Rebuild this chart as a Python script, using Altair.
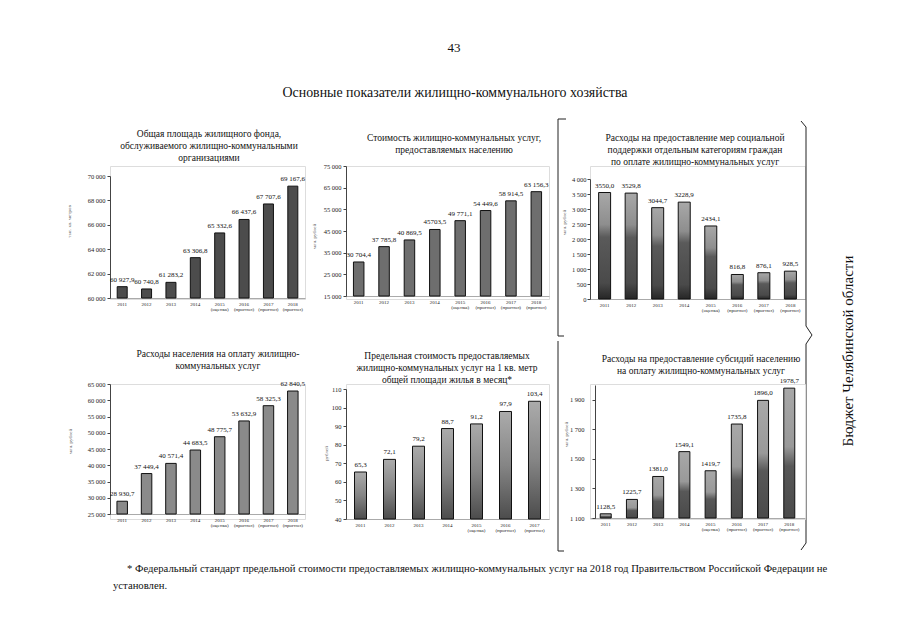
import altair as alt
import pandas as pd

SERIF = "'Liberation Serif', 'Times New Roman', Times, serif"

years8 = ["2011", "2012", "2013", "2014", "2015 (оценка)", "2016 (прогноз)",
          "2017 (прогноз)", "2018 (прогноз)"]
years7 = years8[:7]

area_vals = [60927.9, 60740.8, 61283.2, 63306.8, 65332.6, 66437.6, 67707.6, 69167.6]
area_lbls = ["60 927,9", "60 740,8", "61 283,2", "63 306,8", "65 332,6", "66 437,6",
             "67 707,6", "69 167,6"]
cost_vals = [30704.4, 37785.8, 40869.5, 45703.5, 49771.1, 54449.6, 58914.5, 63156.3]
cost_lbls = ["30 704,4", "37 785,8", "40 869,5", "45703,5", "49 771,1", "54 449,6",
             "58 914,5", "63 156,3"]
support_vals = [3550.0, 3529.8, 3044.7, 3228.9, 2434.1, 816.8, 876.1, 928.5]
support_lbls = ["3550,0", "3529,8", "3044,7", "3228,9", "2434,1", "816,8", "876,1", "928,5"]
spend_vals = [28930.7, 37449.4, 40571.4, 44683.5, 48775.7, 53632.9, 58325.3, 62840.5]
spend_lbls = ["28 930,7", "37 449,4", "40 571,4", "44 683,5", "48 775,7", "53 632,9",
              "58 325,3", "62 840,5"]
limit_vals = [65.3, 72.1, 79.2, 88.7, 91.2, 97.9, 103.4]
limit_lbls = ["65,3", "72,1", "79,2", "88,7", "91,2", "97,9", "103,4"]
subsidy_vals = [1128.5, 1225.7, 1381.0, 1549.1, 1419.7, 1735.8, 1896.0, 1978.7]
subsidy_lbls = ["1128,5", "1225,7", "1381,0", "1549,1", "1419,7", "1735,8", "1896,0", "1978,7"]

t_area = ["Общая площадь жилищного фонда,", "обслуживаемого жилищно-коммунальными", "организациями"]
t_cost = ["Стоимость жилищно-коммунальных услуг,", "предоставляемых населению"]
t_support = ["Расходы на предоставление мер социальной", "поддержки отдельным категориям граждан",
             "по оплате жилищно-коммунальных услуг"]
t_spend = ["Расходы населения на оплату жилищно-", "коммунальных услуг"]
t_limit = ["Предельная стоимость предоставляемых", "жилищно-коммунальных услуг на 1 кв. метр",
           "общей площади жилья в месяц*"]
t_subsidy = ["Расходы на предоставление субсидий населению", "на оплату жилищно-коммунальных услуг"]

page_no = "43"
main_title = "Основные показатели жилищно-коммунального хозяйства"
foot1 = ("* Федеральный стандарт предельной стоимости предоставляемых жилищно-коммунальных услуг "
         "на 2018 год Правительством Российской Федерации не")
foot2 = "установлен."
side_text = "Бюджет  Челябинской  области"


def vgrad(stops):
    return alt.Gradient(gradient="linear",
                        stops=[alt.GradientStop(offset=o, color=c) for o, c in stops],
                        x1=0, x2=0, y1=0, y2=1)


def note(text, x, y, size, **kw):
    return alt.Chart(pd.DataFrame({"t": [text]})).mark_text(
        font=SERIF, fontSize=size, color="#111", lineBreak="\n", **kw
    ).encode(x=alt.value(x), y=alt.value(y), text="t:N")


def seg(x, y, x2=None, y2=None):
    enc = {"x": alt.value(x), "y": alt.value(y)}
    if x2 is not None:
        enc["x2"] = alt.value(x2)
    if y2 is not None:
        enc["y2"] = alt.value(y2)
    return alt.Chart(pd.DataFrame({"a": [0]})).mark_rule(color="#222", strokeWidth=1).encode(**enc)


def panel(cats, vals, lbls, domain, ticks, rng, width, height, pad_outer, bar_size, fill,
          ytitle, ytx, yty, title, tx, ty, x_off=0, y_off=0, lab_pad=2, extras=()):
    df = pd.DataFrame({"cat": cats, "val": vals, "lbl": lbls})
    x = alt.X("cat:N", sort=cats, title=None,
              scale=alt.Scale(paddingInner=0, paddingOuter=pad_outer),
              axis=alt.Axis(labelAngle=0, labelExpr="split(datum.label, ' ')", labelFont=SERIF,
                            labelFontSize=5, labelLineHeight=5.5, ticks=False, domainColor="#aaa",
                            labelPadding=3, labelColor="#222", offset=x_off))
    y = alt.Y("val:Q", title=ytitle,
              scale=alt.Scale(domain=domain, range=rng, nice=False, zero=False),
              axis=alt.Axis(values=ticks, grid=False,
                            labelExpr="replace(format(datum.value, ','), ',', ' ')",
                            labelFont=SERIF, labelFontSize=6.5, labelColor="#222", tickSize=3,
                            domainColor="#444", tickColor="#444", labelPadding=lab_pad,
                            offset=y_off, titleFont=SERIF, titleFontSize=5,
                            titleFontWeight="normal", titleColor="#555", titleX=ytx,
                            titleY=yty, titleBaseline="middle", titleAlign="center"))
    base = alt.Chart(df)
    bars = base.mark_bar(size=bar_size, fill=fill, stroke="#111", strokeWidth=1).encode(
        x=x, y=y, y2=alt.datum(domain[0]))
    labels = base.mark_text(baseline="bottom", dy=-4, font=SERIF, fontSize=7,
                            color="#111").encode(x=x, y=y, text="lbl:N")
    ttl = note("\n".join(title), tx, ty, 9.5, baseline="top", align="center", lineHeight=12)
    return alt.layer(bars, labels, ttl, *extras).properties(width=width, height=height)


p1 = panel(years8, area_vals, area_lbls, [60000, 70000], list(range(60000, 70001, 2000)),
           [132, 10], 195, 133, 0, 10, "#4c4c4c", "тыс. кв. метров", -42, 55,
           t_area, 99, -37, x_off=-1)

p2 = panel(years8, cost_vals, cost_lbls, [15000, 75000], list(range(15000, 75001, 10000)),
           [130, 0], 203, 133, 0, 10.5, "#6e6e6e", "млн. рублей", -33, 70,
           t_cost, 108, -33, x_off=-3,
           extras=[note(page_no, 108, -118, 13, baseline="middle", align="center"),
                   note(main_title, 109, -73, 13.9, baseline="middle", align="center")])

p3 = panel(years8, support_vals, support_lbls, [0, 4000], list(range(0, 4001, 500)),
           [133, 13], 215, 133, 0.05, 12,
           vgrad([(0, "#a8a8a8"), (0.3, "#8e8e8e"), (0.42, "#5a5a5a"), (0.85, "#4a4a4a"),
                  (1, "#262626")]),
           "млн. рублей", -27, 56, t_support, 105, -33, lab_pad=1,
           extras=[seg(-32, -47, y2=170), seg(-32, -47, x2=-24), seg(-32, 170, x2=-26),
                   seg(211, -45, x2=216, y2=-39), seg(216, -39, y2=160),
                   seg(216, 160, x2=222, y2=169), seg(222, 169, x2=216, y2=178),
                   seg(216, 178, y2=377), seg(216, 377, x2=211, y2=384)])

p4 = panel(years8, spend_vals, spend_lbls, [25000, 65000], list(range(25000, 65001, 5000)),
           [130, 0], 195, 135, 0, 10.5, "#8a8a8a", "млн. рублей", -41, 57,
           t_spend, 108, -35, x_off=-5,
           extras=[note(foot1, 17, 185, 10.7, baseline="middle", align="left"),
                   note(foot2, 3, 202, 10.7, baseline="middle", align="left")])

p5 = panel(years7, limit_vals, limit_lbls, [40, 110], list(range(40, 111, 10)),
           [135, 5], 203, 135, 0, 12,
           vgrad([(0, "#ababab"), (0.5, "#858585"), (1, "#4c4c4c")]),
           "рублей", -21, 69, t_limit, 101, -33)

p6 = panel(years8, subsidy_vals, subsidy_lbls, [1100, 2000], list(range(1100, 1901, 200)),
           [134, 1], 215, 135, 0.1, 11,
           vgrad([(0, "#a8a8a8"), (0.45, "#999999"), (0.6, "#585858"), (1, "#4a4a4a")]),
           "млн. рублей", -30, 50, t_subsidy, 111, -30, x_off=-1, y_off=-5, lab_pad=8,
           extras=[seg(-32, -43, y2=167), seg(-32, 167, x2=-26),
                   note(side_text, 258, -33, 15, baseline="middle", align="center", angle=270)])

chart = alt.concat(
    p1, p2, p3, p4, p5, p6, columns=3, spacing={"row": 85, "column": 41},
    bounds="flush", align="each"
).properties(
    padding={"left": 57, "top": 33, "right": 5, "bottom": 5}
).configure_view(stroke="transparent").configure(background="white")

chart.save("out.html", embed_options={"renderer": "svg", "actions": False})
